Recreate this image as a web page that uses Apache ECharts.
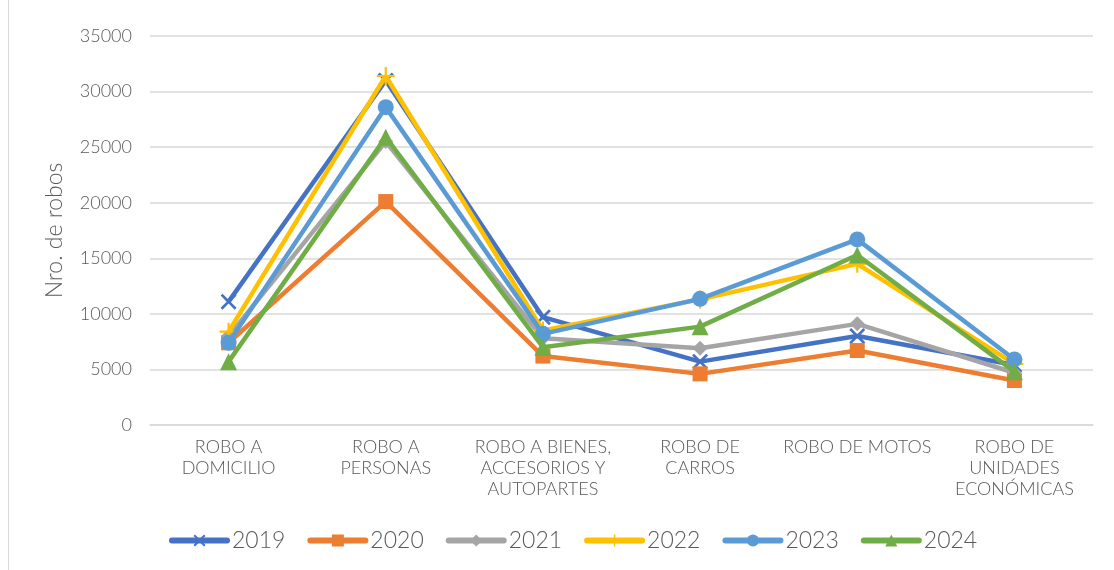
<!DOCTYPE html>
<html>
<head>
<meta charset="utf-8">
<script src="https://cdn.jsdelivr.net/npm/echarts@6/dist/echarts.min.js"></script>
<style>
html,body{margin:0;padding:0;background:#fff;}
#c{width:1114px;height:570px;}
</style>
</head>
<body>
<div id="c"></div>
<script>
const categories = ["ROBO A\nDOMICILIO", "ROBO A\nPERSONAS", "ROBO A BIENES,\nACCESORIOS Y\nAUTOPARTES", "ROBO DE\nCARROS", "ROBO DE MOTOS", "ROBO DE\nUNIDADES\nECONÓMICAS"];
const years = ["2019", "2020", "2021", "2022", "2023", "2024"];
const s2019 = [11100, 31000, 9700, 5700, 8000, 5400];
const s2020 = [7400, 20100, 6200, 4600, 6700, 4000];
const s2021 = [8000, 25500, 7800, 6900, 9100, 4700];
const s2022 = [8400, 31400, 8500, 11300, 14500, 5500];
const s2023 = [7400, 28600, 8200, 11350, 16700, 5900];
const s2024 = [5700, 25900, 7000, 8850, 15300, 4800];
const yTicks = [0, 5000, 10000, 15000, 20000, 25000, 30000, 35000];

const FONT = "Lato";
const colors = ["#4472C4", "#ED7D31", "#A5A5A5", "#FFC000", "#5B9BD5", "#70AD47"];
const crossPath = 'path://M0,1.2L1.2,0L5,3.8L8.8,0L10,1.2L6.2,5L10,8.8L8.8,10L5,6.2L1.2,10L0,8.8L3.8,5Z';
const plusPath = 'path://M4.4,0L5.6,0L5.6,4.4L10,4.4L10,5.6L5.6,5.6L5.6,10L4.4,10L4.4,5.6L0,5.6L0,4.4L4.4,4.4Z';
const symbols = [crossPath, 'rect', 'diamond', plusPath, 'circle', 'triangle'];
const sizes = [16, 15, 15, 18, 16, 17];
const data = [s2019, s2020, s2021, s2022, s2023, s2024];

const chart = echarts.init(document.getElementById('c'), null, {renderer: 'canvas'});
chart.setOption({
  animation: false,
  backgroundColor: '#fff',
  color: colors,
  graphic: [{type: 'line', shape: {x1: 8.5, y1: 0, x2: 8.5, y2: 570}, style: {stroke: '#d9d9d9', lineWidth: 1}}],
  grid: {left: 150, right: 21, top: 36, bottom: 145, containLabel: false},
  legend: {
    top: 524, left: 164,
    itemWidth: 55, itemHeight: 15, itemGap: 22,
    lineStyle: {width: 6, cap: 'round'},
    textStyle: {fontFamily: FONT, fontWeight: 300, fontSize: 23, color: '#595959'},
    data: years
  },
  xAxis: {
    type: 'category', data: categories, boundaryGap: true,
    axisLine: {lineStyle: {color: '#d9d9d9', width: 1.5}},
    axisTick: {show: false},
    axisLabel: {fontFamily: FONT, fontWeight: 300, fontSize: 18, color: '#595959', lineHeight: 21, margin: 12, interval: 0}
  },
  yAxis: {
    type: 'value', min: yTicks[0], max: yTicks[yTicks.length - 1], interval: 5000,
    name: 'Nro. de robos', nameLocation: 'middle', nameGap: 84, nameRotate: 90,
    nameTextStyle: {fontFamily: FONT, fontWeight: 300, fontSize: 23, color: '#595959'},
    axisLine: {show: false}, axisTick: {show: false},
    splitLine: {lineStyle: {color: '#d9d9d9', width: 1.5}},
    axisLabel: {fontFamily: FONT, fontWeight: 300, fontSize: 18, color: '#595959', margin: 18, formatter: v => String(v)}
  },
  series: years.map((y, i) => ({
    name: y, type: 'line', data: data[i],
    symbol: symbols[i], symbolSize: sizes[i],
    lineStyle: {width: 4.5, color: colors[i]},
    itemStyle: {color: colors[i]},
    z: 2 + i
  }))
});
</script>
</body>
</html>
